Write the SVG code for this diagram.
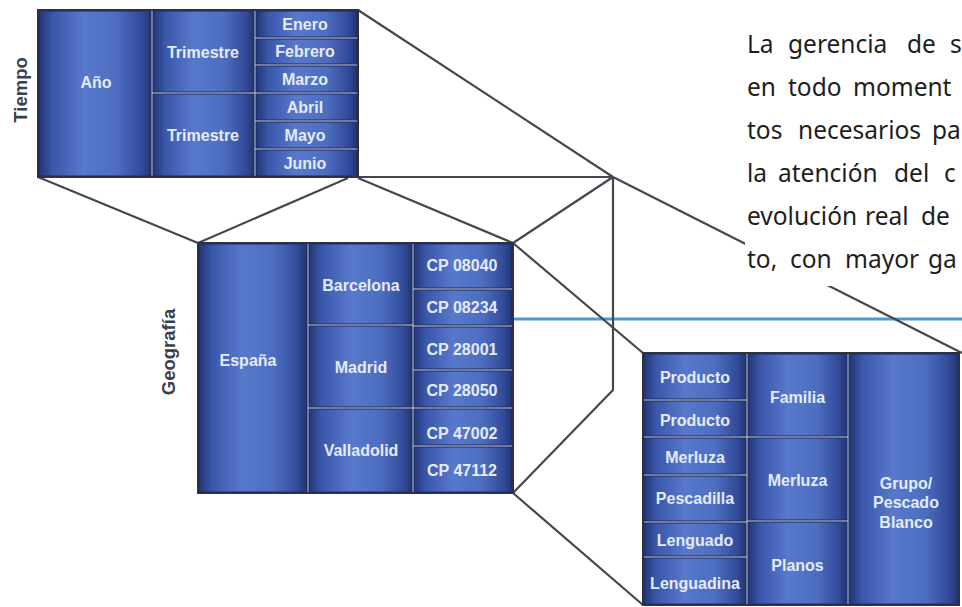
<svg xmlns="http://www.w3.org/2000/svg" width="962" height="607" viewBox="0 0 962 607">
<defs>
<linearGradient id="g" x1="0" y1="0" x2="1" y2="0">
<stop offset="0" stop-color="#233575"/>
<stop offset="0.12" stop-color="#3a57aa"/>
<stop offset="0.4" stop-color="#5878cc"/>
<stop offset="0.7" stop-color="#4d6dc0"/>
<stop offset="0.92" stop-color="#314a98"/>
<stop offset="1" stop-color="#22346f"/>
</linearGradient>
<style>
.bg{fill:#c3cbdd;stroke:#30343f;stroke-width:2}
.c{fill:url(#g);stroke:#1e2a5e;stroke-width:1}
.t{font-family:"Liberation Sans",Arial,sans-serif;font-weight:bold;font-size:16px;fill:#e4ebf8;text-anchor:middle}
.lab{font-family:"Liberation Sans",Arial,sans-serif;font-weight:bold;font-size:18.5px;fill:#3b4050;text-anchor:middle}
.ln{stroke:#46464f;stroke-width:2.2;fill:none;stroke-linejoin:round}
.p{font-family:"Noto Sans","Open Sans",sans-serif;font-size:24.5px;fill:#1e1e1e}
</style>
</defs>
<rect width="962" height="607" fill="#ffffff"/>

<g id="connectors">
<line x1="513" y1="319" x2="962" y2="319" stroke="#4b9bd9" stroke-width="3"/>
<polyline class="ln" points="38,177 198,243 348,178"/>
<line class="ln" x1="358" y1="178" x2="513" y2="243"/>
<line class="ln" x1="358" y1="177" x2="613" y2="177"/>
<line class="ln" x1="358" y1="10" x2="613" y2="177"/>
<line class="ln" x1="613" y1="177" x2="962" y2="353"/>
<line class="ln" x1="613" y1="177" x2="513" y2="243"/>
<polyline class="ln" points="613,177 613,390 513,493"/>
<line class="ln" x1="513" y1="243" x2="643" y2="353"/>
<line class="ln" x1="513" y1="493" x2="643" y2="605"/>
</g>

<g id="tiempo">
<text class="lab" transform="translate(27,90) rotate(-90)">Tiempo</text>
<rect class="bg" x="38" y="10" width="320" height="167"/>
<g id="t-anio"><rect class="c" x="39" y="11" width="112" height="165"/><text class="t" x="96" y="88">Año</text></g>
<g id="t-trim1"><rect class="c" x="153" y="11" width="101" height="81"/><text class="t" x="203" y="57.5">Trimestre</text></g>
<g id="t-trim2"><rect class="c" x="153" y="94" width="101" height="82"/><text class="t" x="203" y="141">Trimestre</text></g>
<g id="t-enero"><rect class="c" x="256" y="11" width="101" height="26"/><text class="t" x="305" y="29.5">Enero</text></g>
<g id="t-febrero"><rect class="c" x="256" y="39" width="101" height="25"/><text class="t" x="305" y="57">Febrero</text></g>
<g id="t-marzo"><rect class="c" x="256" y="66" width="101" height="26"/><text class="t" x="305" y="84.5">Marzo</text></g>
<g id="t-abril"><rect class="c" x="256" y="94" width="101" height="26"/><text class="t" x="305" y="112.5">Abril</text></g>
<g id="t-mayo"><rect class="c" x="256" y="122" width="101" height="26"/><text class="t" x="305" y="140.5">Mayo</text></g>
<g id="t-junio"><rect class="c" x="256" y="150" width="101" height="26"/><text class="t" x="305" y="168.5">Junio</text></g>
</g>

<g id="geografia">
<text class="lab" transform="translate(175,352) rotate(-90)">Geografía</text>
<rect class="bg" x="198" y="243" width="315" height="250"/>
<g id="g-espana"><rect class="c" x="199" y="244" width="108" height="248"/><text class="t" x="248" y="366">España</text></g>
<g id="g-barcelona"><rect class="c" x="309" y="244" width="103" height="80"/><text class="t" x="361" y="290.5">Barcelona</text></g>
<g id="g-madrid"><rect class="c" x="309" y="326" width="103" height="81"/><text class="t" x="361" y="372.5">Madrid</text></g>
<g id="g-valladolid"><rect class="c" x="309" y="409" width="103" height="83"/><text class="t" x="361" y="455.5">Valladolid</text></g>
<g id="g-cp08040"><rect class="c" x="414" y="244" width="98" height="44"/><text class="t" x="462" y="270.5">CP 08040</text></g>
<g id="g-cp08234"><rect class="c" x="414" y="290" width="98" height="35"/><text class="t" x="462" y="312.5">CP 08234</text></g>
<g id="g-cp28001"><rect class="c" x="414" y="327" width="98" height="42"/><text class="t" x="462" y="354.5">CP 28001</text></g>
<g id="g-cp28050"><rect class="c" x="414" y="371" width="98" height="36"/><text class="t" x="462" y="395.5">CP 28050</text></g>
<g id="g-cp47002"><rect class="c" x="414" y="409" width="98" height="36"/><text class="t" x="462" y="438.5">CP 47002</text></g>
<g id="g-cp47112"><rect class="c" x="414" y="447" width="98" height="45"/><text class="t" x="462" y="475.5">CP 47112</text></g>
</g>

<g id="producto">
<rect class="bg" x="643" y="353" width="316" height="252"/>
<g id="p-producto1"><rect class="c" x="644" y="354" width="102" height="45"/><text class="t" x="695" y="382.5">Producto</text></g>
<g id="p-producto2"><rect class="c" x="644" y="401" width="102" height="35"/><text class="t" x="695" y="425.5">Producto</text></g>
<g id="p-merluza1"><rect class="c" x="644" y="438" width="102" height="36"/><text class="t" x="695" y="462.5">Merluza</text></g>
<g id="p-pescadilla"><rect class="c" x="644" y="476" width="102" height="45"/><text class="t" x="695" y="503.5">Pescadilla</text></g>
<g id="p-lenguado"><rect class="c" x="644" y="523" width="102" height="33"/><text class="t" x="695" y="545.5">Lenguado</text></g>
<g id="p-lenguadina"><rect class="c" x="644" y="558" width="102" height="46"/><text class="t" x="695" y="588.5">Lenguadina</text></g>
<g id="p-familia"><rect class="c" x="748" y="354" width="99" height="82"/><text class="t" x="797.5" y="402.5">Familia</text></g>
<g id="p-merluza2"><rect class="c" x="748" y="438" width="99" height="82"/><text class="t" x="797.5" y="485.5">Merluza</text></g>
<g id="p-planos"><rect class="c" x="748" y="522" width="99" height="82"/><text class="t" x="797.5" y="570.5">Planos</text></g>
<g id="p-grupo"><rect class="c" x="849" y="354" width="109" height="250"/><text class="t" x="906" y="488.5">Grupo/</text><text class="t" x="906" y="507.5">Pescado</text><text class="t" x="906" y="527.5">Blanco</text></g>
</g>

<g id="texto">
<rect x="745" y="20" width="217" height="266" fill="#ffffff"/>
<text class="p" y="53"><tspan x="747">La</tspan><tspan x="788">gerencia</tspan><tspan x="907">de</tspan><tspan x="950">s</tspan></text>
<text class="p" y="96"><tspan x="747">en</tspan><tspan x="788">todo</tspan><tspan x="853">moment</tspan></text>
<text class="p" y="139"><tspan x="747">tos</tspan><tspan x="798">necesarios</tspan><tspan x="932">pa</tspan></text>
<text class="p" y="182"><tspan x="747">la</tspan><tspan x="778">atención</tspan><tspan x="894">del</tspan><tspan x="944">c</tspan></text>
<text class="p" y="225"><tspan x="747">evolución</tspan><tspan x="865">real</tspan><tspan x="921">de</tspan></text>
<text class="p" y="268"><tspan x="747">to,</tspan><tspan x="790">con</tspan><tspan x="845">mayor</tspan><tspan x="928">ga</tspan></text>
</g>
</svg>
